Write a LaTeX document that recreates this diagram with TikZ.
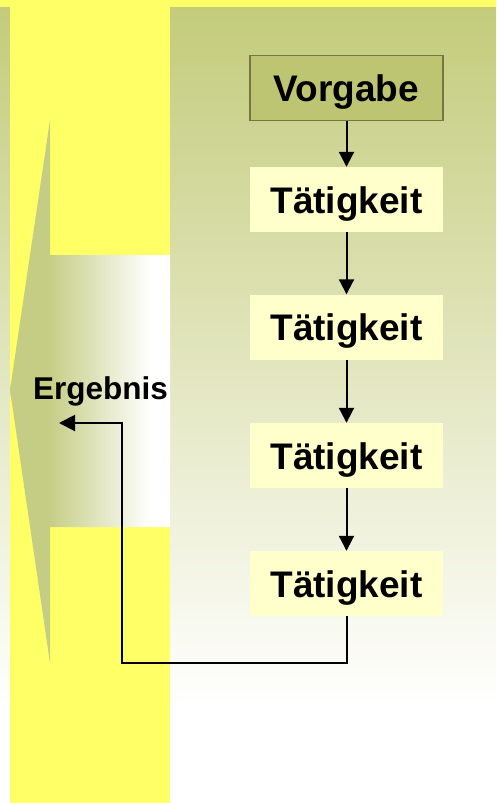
\documentclass[tikz,border=0pt]{standalone}
\usepackage{fontspec}
\setmainfont{Liberation Sans}
\usetikzlibrary{arrows.meta}
\definecolor{olivetop}{RGB}{195,203,122}
\definecolor{arrowol}{RGB}{197,205,133}
\definecolor{yel}{RGB}{255,255,102}
\definecolor{boxfill}{RGB}{255,255,204}
\definecolor{vfill}{RGB}{189,197,115}
\definecolor{vborder}{RGB}{118,118,64}
\pgfdeclareverticalshading{bgshade}{100bp}{color(0bp)=(white); color(25bp)=(white); color(31bp)=(white); color(75bp)=(olivetop); color(100bp)=(olivetop)}
\pgfdeclarehorizontalshading{arrowshade}{100bp}{color(0bp)=(arrowol); color(25bp)=(arrowol); color(37bp)=(arrowol); color(69bp)=(white); color(75bp)=(white); color(100bp)=(white)}
\tikzset{
  boxbase/.style={minimum width=193pt, minimum height=65pt, inner sep=0pt,
    font=\fontsize{37}{40}\selectfont\bfseries, text height=27pt, text depth=0pt},
  tbox/.style={boxbase, fill=boxfill},
  vbox/.style={boxbase, fill=vfill, draw=vborder, line width=1.5pt},
  arr/.style={line width=2pt, -{Triangle[length=15pt,width=15pt]}},
  feed/.style={line width=2pt, -{Triangle[length=16pt,width=16pt]}}
}
\begin{document}
\begin{tikzpicture}[x=1pt,y=-1pt]
\useasboundingbox (0,0) rectangle (496,803);
% background
\shade[shading=bgshade] (0,0) rectangle (496,803);
\fill[yel] (0,0) rectangle (496,7);
\fill[yel] (10,0) rectangle (170,803);
% big result arrow
\shade[shading=arrowshade] (50,120) -- (10,390) -- (50,663) -- (50,527) -- (170,527) -- (170,255) -- (50,255) -- cycle;
% nodes
\node[vbox] (v) at (346.5,88) {Vorgabe};
\node[tbox] (t1) at (346.5,199.5) {Tätigkeit};
\node[tbox] (t2) at (346.5,327) {Tätigkeit};
\node[tbox] (t3) at (346.5,455.5) {Tätigkeit};
\node[tbox] (t4) at (346.5,583.5) {Tätigkeit};
\node[font=\fontsize{31.5}{34}\selectfont\bfseries, anchor=base, inner sep=0pt] (erg) at (100.5,399) {Ergebnis};
% connectors
\draw[arr] (v) -- (t1);
\draw[arr] (t1) -- (t2);
\draw[arr] (t2) -- (t3);
\draw[arr] (t3) -- (t4);
\coordinate (c1) at (346.5,663);
\coordinate (c2) at (122,663);
\coordinate (c3) at (122,423);
\coordinate (tip) at (59,423);
\draw[feed, line join=miter] (t4.south) -- (c1) -- (c2) -- (c3) -- (tip);
\end{tikzpicture}
\end{document}
